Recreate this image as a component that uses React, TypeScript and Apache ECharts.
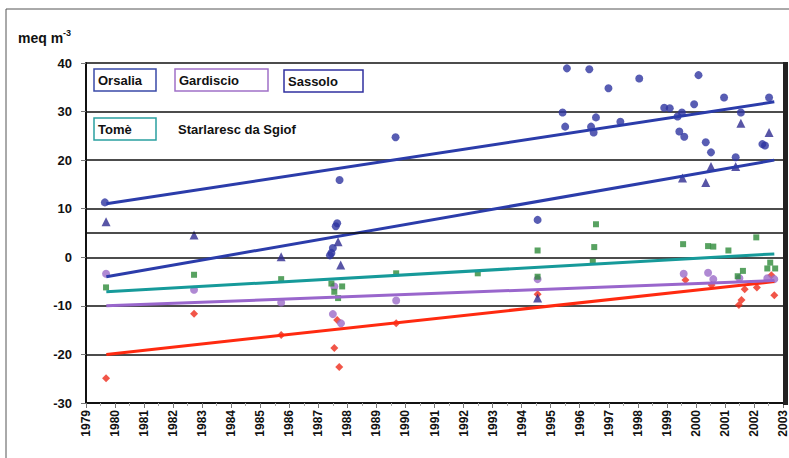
import React, { useEffect, useRef } from "react";
import * as echarts from "echarts";

const yearTicks = [1979, 2003];
const valueTicks = [-30, 40];
const extraGridValue = 5;

const orsalia: number[][] = [
  [1979.65, 11.3], [1987.73, 15.9], [1987.6, 6.4], [1987.65, 7.0], [1987.5, 1.9], [1987.45, 0.9],
  [1987.4, 0.4], [1989.66, 24.7], [1994.55, 7.7], [1995.41, 29.8], [1995.5, 26.9], [1995.56, 38.9],
  [1996.33, 38.7], [1996.39, 26.9], [1996.48, 25.7], [1996.56, 28.8], [1996.99, 34.8], [1997.4, 27.9],
  [1998.05, 36.8], [1998.91, 30.8], [1999.1, 30.7], [1999.37, 29.0], [1999.43, 25.9], [1999.52, 29.8],
  [1999.6, 24.8], [1999.94, 31.5], [2000.09, 37.5], [2000.34, 23.7], [2000.52, 21.6], [2000.97, 32.9],
  [2001.37, 20.6], [2001.55, 29.8], [2002.29, 23.3], [2002.38, 23.0], [2002.52, 32.9],
];
const sassolo: number[][] = [
  [1979.69, 7.3], [1982.72, 4.6], [1985.72, 0.1], [1987.68, 3.2], [1987.77, -1.6], [1994.55, -8.4],
  [1999.54, 16.3], [2000.34, 15.4], [2000.52, 18.7], [2001.37, 18.7], [2001.55, 27.6], [2002.52, 25.7],
];
const gardiscio: number[][] = [
  [1979.69, -3.4], [1982.72, -6.7], [1985.72, -9.3], [1987.55, -6.0], [1987.5, -11.7], [1987.78, -13.6],
  [1989.68, -8.9], [1994.55, -4.5], [1999.58, -3.4], [2000.42, -3.2], [2000.6, -4.5], [2001.5, -4.3],
  [2002.46, -4.3], [2002.7, -4.5],
];
const tome: number[][] = [
  [1979.69, -6.2], [1982.72, -3.6], [1985.72, -4.5], [1987.45, -5.4], [1987.55, -7.1], [1987.68, -8.4],
  [1987.82, -6.0], [1989.68, -3.3], [1992.49, -3.3], [1994.55, 1.4], [1994.55, -4.0], [1996.56, 6.8],
  [1996.5, 2.1], [1996.45, -0.9], [1999.56, 2.7], [2000.42, 2.3], [2000.6, 2.2], [2001.12, 1.4],
  [2001.44, -3.9], [2001.62, -2.8], [2002.08, 4.1], [2002.46, -2.3], [2002.56, -1.1], [2002.73, -2.3],
];
const starlaresc: number[][] = [
  [1979.69, -24.9], [1982.72, -11.6], [1985.72, -16.0], [1987.65, -12.9], [1987.55, -18.7],
  [1987.72, -22.6], [1989.68, -13.6], [1994.55, -7.6], [1999.64, -4.7], [2000.54, -5.7],
  [2001.48, -9.8], [2001.57, -8.8], [2001.68, -6.6], [2002.1, -6.2], [2002.6, -3.7], [2002.7, -7.8],
];

const orsaliaTrend = [[1979.7, 11.0], [2002.7, 32.0]];
const sassoloTrend = [[1979.7, -4.0], [2002.7, 20.0]];
const tomeTrend = [[1979.7, -7.1], [2002.7, 0.7]];
const gardiscioTrend = [[1979.7, -10.0], [2002.7, -4.8]];
const starlarescTrend = [[1979.7, -20.0], [2002.7, -5.0]];

const FONT = "'Liberation Sans', Arial, sans-serif";

export default function App() {
  const ref = useRef<HTMLDivElement>(null);
  useEffect(() => {
    if (!ref.current) return;
    const chart = echarts.init(ref.current, undefined, { renderer: "svg" });
    const scatter = (name: string, data: number[][], symbol: string, size: number, color: string) => ({
      name, type: "scatter", data, symbol, symbolSize: size, itemStyle: { color }, z: 3,
    });
    const trend = (name: string, data: number[][], color: string) => ({
      name: name + " trend", type: "line", data, symbol: "none", lineStyle: { color, width: 3 }, z: 4,
    });
    const legendBox = (x: number, y: number, w: number, text: string, color: string) => [
      { type: "rect", shape: { x, y, width: w, height: 22 }, style: { fill: "#fff", stroke: color, lineWidth: 1.5 }, z: 10 },
      { type: "text", x: x + 4, y: y + 11, style: { text, font: `bold 13px ${FONT}`, fill: "#111", verticalAlign: "middle" }, z: 11 },
    ];
    chart.setOption({
      animation: false,
      backgroundColor: "#fff",
      grid: { left: 86, top: 63, width: 698, height: 340, containLabel: false },
      xAxis: {
        type: "value", min: yearTicks[0], max: yearTicks[1], interval: 1,
        axisLine: { show: true, onZero: false, lineStyle: { color: "#111", width: 2 } },
        axisTick: { show: true, length: 5, lineStyle: { color: "#777" } },
        minorTick: { show: true, splitNumber: 2, length: 3, lineStyle: { color: "#aaa" } },
        splitLine: { show: false },
        axisLabel: { rotate: 90, fontSize: 12, fontWeight: "bold", fontFamily: FONT, color: "#111", margin: 7, formatter: (v: number) => String(v) },
      },
      yAxis: {
        type: "value", min: valueTicks[0], max: valueTicks[1], interval: 10,
        axisLine: { show: true, onZero: false, lineStyle: { color: "#111", width: 2 } },
        axisTick: { show: true, length: 5, lineStyle: { color: "#777" } },
        splitLine: { show: true, lineStyle: { color: "#111", width: 1.5 } },
        axisLabel: { fontSize: 13, fontWeight: "bold", fontFamily: FONT, color: "#111", margin: 14 },
      },
      series: [
        {
          name: "grid5", type: "line", data: [], symbol: "none",
          markLine: { silent: true, symbol: "none", label: { show: false }, lineStyle: { color: "#111", width: 1.5, type: "solid" }, data: [{ yAxis: extraGridValue }] },
        },
        scatter("Starlaresc da Sgiof", starlaresc, "diamond", 8, "#ee2a1a"),
        scatter("Gardiscio", gardiscio, "circle", 8, "#9b6cc8"),
        scatter("Tomè", tome, "rect", 6, "#2e8b3a"),
        scatter("Sassolo", sassolo, "triangle", 9, "#2e2a90"),
        scatter("Orsalia", orsalia, "circle", 8, "#2e35a0"),
        trend("Starlaresc da Sgiof", starlarescTrend, "#ff2a10"),
        trend("Gardiscio", gardiscioTrend, "#9966cc"),
        trend("Tomè", tomeTrend, "#169a9a"),
        trend("Sassolo", sassoloTrend, "#2b3caa"),
        trend("Orsalia", orsaliaTrend, "#2b3caa"),
      ],
      graphic: [
        { type: "rect", shape: { x: 6, y: 9, width: 820, height: 480 }, style: { fill: "none", stroke: "#555", lineWidth: 1 }, z: 0, silent: true },
        { type: "rect", shape: { x: 783, y: 62, width: 5, height: 343 }, style: { fill: "#222" }, z: 12 },
        {
          type: "text", x: 18, y: 38,
          style: {
            text: "{b|meq m}{s|-3}", verticalAlign: "middle",
            rich: {
              b: { font: `bold 14px ${FONT}`, fill: "#111" },
              s: { font: `bold 9px ${FONT}`, fill: "#111", verticalAlign: "top", padding: [0, 0, 10, 0] },
            },
          },
        },
        ...legendBox(94, 69, 62, "Orsalia", "#3a4aa8"),
        ...legendBox(175, 69, 93, "Gardiscio", "#a070c8"),
        ...legendBox(284, 70, 79, "Sassolo", "#3030a0"),
        ...legendBox(94, 118, 62, "Tomè", "#2aa0a0"),
        { type: "text", x: 178, y: 129, style: { text: "Starlaresc da Sgiof", font: `bold 13px ${FONT}`, fill: "#111", verticalAlign: "middle" }, z: 11 },
      ],
    });
    return () => chart.dispose();
  }, []);
  return <div ref={ref} style={{ position: "fixed", left: 0, top: 0, width: 789, height: 458 }} />;
}
